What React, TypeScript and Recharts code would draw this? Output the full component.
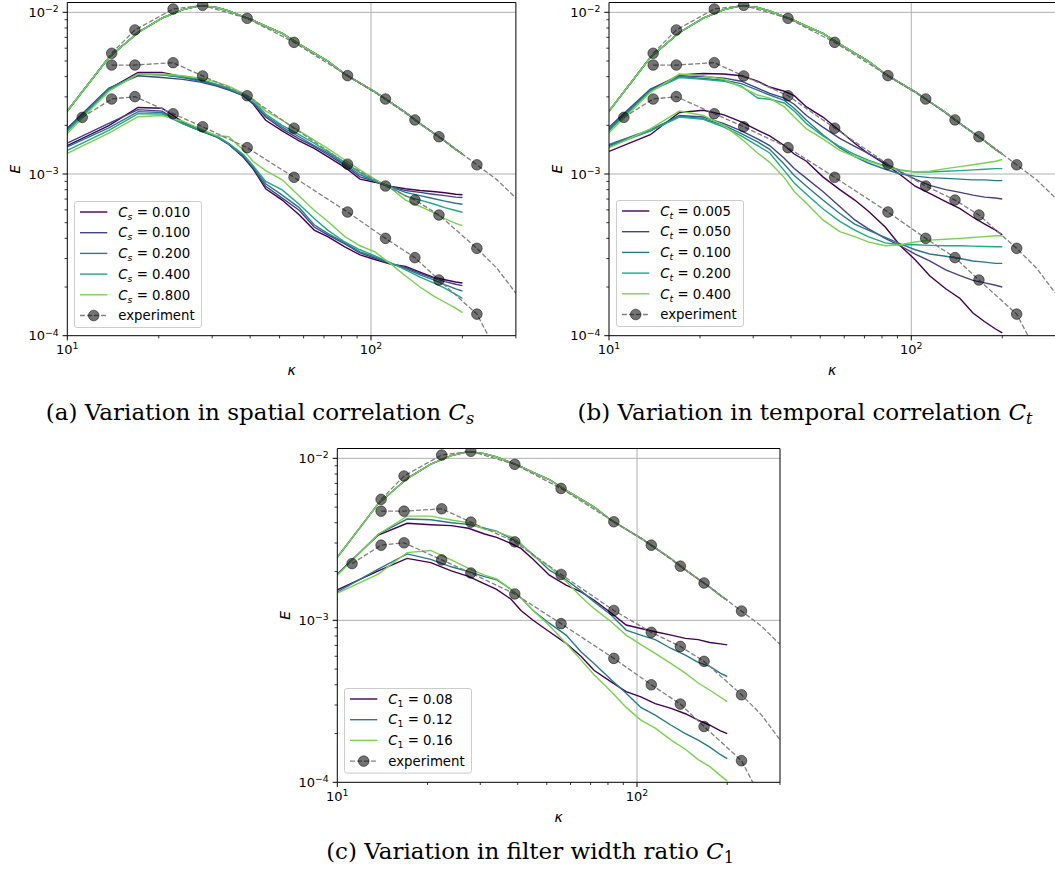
import React from "react";
import { ComposedChart, Line, XAxis, YAxis, ReferenceLine, Legend } from "recharts";

const SANS = "DejaVu Sans, sans-serif";
const SERIF = "DejaVu Serif, serif";

// wavenumbers at which the simulated spectra are read
const simK = [10, 13.7, 17.1, 20.5, 24, 27.4, 31, 34, 38, 41, 45, 51, 58, 65, 72, 82, 92, 103, 115, 130, 145, 160, 175, 190, 200];

// first time level: all runs coincide
const topE = [2.45e-3, 5.25e-3, 7.5e-3, 9.2e-3, 1.04e-2, 1.1e-2, 1.07e-2, 1.02e-2, 9.4e-3, 8.9e-3, 8.2e-3, 7.4e-3, 6.35e-3, 5.6e-3, 5.0e-3, 4.15e-3, 3.65e-3, 3.22e-3, 2.8e-3, 2.4e-3, 2.05e-3, 1.8e-3, 1.6e-3, 1.42e-3, 1.33e-3];

// (a) spatial correlation, second and third time level
const aMid010 = [1.9e-3, 3.35e-3, 4.25e-3, 4.25e-3, 4.0e-3, 3.8e-3, 3.55e-3, 3.35e-3, 3.05e-3, 2.7e-3, 2.15e-3, 1.85e-3, 1.6e-3, 1.44e-3, 1.28e-3, 1.1e-3, 9.3e-4, 8.9e-4, 8.4e-4, 8.1e-4, 7.9e-4, 7.8e-4, 7.65e-4, 7.5e-4, 7.45e-4];
const aMid100 = [1.92e-3, 3.4e-3, 4.05e-3, 3.95e-3, 3.85e-3, 3.7e-3, 3.5e-3, 3.3e-3, 3.05e-3, 2.75e-3, 2.25e-3, 1.9e-3, 1.65e-3, 1.48e-3, 1.32e-3, 1.13e-3, 9.6e-4, 9.0e-4, 8.4e-4, 7.9e-4, 7.7e-4, 7.5e-4, 7.35e-4, 7.2e-4, 7.15e-4];
const aMid200 = [1.88e-3, 3.35e-3, 4.15e-3, 4.1e-3, 3.95e-3, 3.75e-3, 3.55e-3, 3.35e-3, 3.05e-3, 2.75e-3, 2.3e-3, 1.95e-3, 1.7e-3, 1.5e-3, 1.35e-3, 1.15e-3, 9.9e-4, 9.0e-4, 8.4e-4, 7.7e-4, 7.35e-4, 7.05e-4, 6.8e-4, 6.6e-4, 6.5e-4];
const aMid400 = [1.84e-3, 3.3e-3, 4.15e-3, 4.1e-3, 4.0e-3, 3.85e-3, 3.6e-3, 3.4e-3, 3.1e-3, 2.85e-3, 2.35e-3, 2.0e-3, 1.75e-3, 1.55e-3, 1.38e-3, 1.18e-3, 1.02e-3, 9.1e-4, 8.4e-4, 7.3e-4, 6.9e-4, 6.55e-4, 6.2e-4, 5.95e-4, 5.8e-4];
const aMid800 = [1.78e-3, 3.25e-3, 4.15e-3, 4.15e-3, 4.05e-3, 3.92e-3, 3.7e-3, 3.5e-3, 3.15e-3, 2.9e-3, 2.45e-3, 2.15e-3, 1.85e-3, 1.62e-3, 1.44e-3, 1.22e-3, 1.06e-3, 9.3e-4, 8.3e-4, 6.9e-4, 6.3e-4, 5.8e-4, 5.3e-4, 4.95e-4, 4.8e-4];
const aBot010 = [1.5e-3, 1.99e-3, 2.58e-3, 2.55e-3, 2.1e-3, 1.88e-3, 1.7e-3, 1.53e-3, 1.27e-3, 1.07e-3, 8.1e-4, 6.9e-4, 5.6e-4, 4.5e-4, 4.1e-4, 3.54e-4, 3.16e-4, 2.96e-4, 2.78e-4, 2.68e-4, 2.47e-4, 2.3e-4, 2.22e-4, 2.15e-4, 2.12e-4];
const aBot100 = [1.55e-3, 2.06e-3, 2.5e-3, 2.45e-3, 2.05e-3, 1.85e-3, 1.7e-3, 1.53e-3, 1.28e-3, 1.08e-3, 8.4e-4, 7.1e-4, 5.97e-4, 4.7e-4, 4.2e-4, 3.7e-4, 3.25e-4, 3.02e-4, 2.8e-4, 2.64e-4, 2.43e-4, 2.28e-4, 2.16e-4, 2.08e-4, 2.04e-4];
const aBot200 = [1.47e-3, 1.93e-3, 2.43e-3, 2.4e-3, 2.05e-3, 1.85e-3, 1.7e-3, 1.53e-3, 1.3e-3, 1.1e-3, 8.7e-4, 7.4e-4, 6.2e-4, 4.85e-4, 4.3e-4, 3.75e-4, 3.3e-4, 3.07e-4, 2.83e-4, 2.6e-4, 2.38e-4, 2.22e-4, 2.07e-4, 1.95e-4, 1.89e-4];
const aBot400 = [1.4e-3, 1.86e-3, 2.36e-3, 2.35e-3, 2.05e-3, 1.87e-3, 1.72e-3, 1.55e-3, 1.32e-3, 1.12e-3, 9.0e-4, 7.98e-4, 6.5e-4, 5.3e-4, 4.5e-4, 3.8e-4, 3.4e-4, 3.12e-4, 2.85e-4, 2.55e-4, 2.3e-4, 2.13e-4, 1.97e-4, 1.8e-4, 1.7e-4];
const aBot800 = [1.34e-3, 1.79e-3, 2.26e-3, 2.3e-3, 2.12e-3, 1.9e-3, 1.73e-3, 1.7e-3, 1.41e-3, 1.19e-3, 1.05e-3, 9.2e-4, 7.3e-4, 5.97e-4, 5.1e-4, 4.1e-4, 3.6e-4, 3.3e-4, 2.82e-4, 2.34e-4, 2.0e-4, 1.77e-4, 1.61e-4, 1.48e-4, 1.39e-4];

// (b) temporal correlation
const bMid005 = [1.88e-3, 3.3e-3, 4.1e-3, 4.18e-3, 4.15e-3, 4.05e-3, 3.75e-3, 3.45e-3, 3.25e-3, 3.05e-3, 2.6e-3, 2.25e-3, 1.85e-3, 1.55e-3, 1.34e-3, 1.15e-3, 9.9e-4, 8.4e-4, 7.6e-4, 6.75e-4, 6.1e-4, 5.4e-4, 4.9e-4, 4.5e-4, 4.2e-4];
const bMid050 = [1.95e-3, 3.35e-3, 4.05e-3, 4.0e-3, 3.92e-3, 3.75e-3, 3.4e-3, 3.15e-3, 2.95e-3, 2.7e-3, 2.3e-3, 1.95e-3, 1.66e-3, 1.48e-3, 1.34e-3, 1.17e-3, 1.03e-3, 9.3e-4, 8.5e-4, 8.0e-4, 7.7e-4, 7.4e-4, 7.2e-4, 7.1e-4, 7.0e-4];
const bMid100 = [1.9e-3, 3.3e-3, 4.0e-3, 3.9e-3, 3.8e-3, 3.62e-3, 3.3e-3, 3.08e-3, 2.85e-3, 2.55e-3, 2.15e-3, 1.75e-3, 1.45e-3, 1.28e-3, 1.17e-3, 1.07e-3, 1.0e-3, 9.7e-4, 9.5e-4, 9.4e-4, 9.3e-4, 9.2e-4, 9.2e-4, 9.1e-4, 9.1e-4];
const bMid200 = [1.85e-3, 3.25e-3, 3.95e-3, 3.85e-3, 3.75e-3, 3.5e-3, 2.95e-3, 2.9e-3, 2.75e-3, 2.45e-3, 2.05e-3, 1.72e-3, 1.48e-3, 1.32e-3, 1.22e-3, 1.12e-3, 1.06e-3, 1.03e-3, 1.03e-3, 1.04e-3, 1.05e-3, 1.06e-3, 1.07e-3, 1.08e-3, 1.08e-3];
const bMid400 = [1.8e-3, 3.2e-3, 4.15e-3, 4.05e-3, 3.85e-3, 3.45e-3, 3.08e-3, 2.95e-3, 2.6e-3, 2.25e-3, 1.9e-3, 1.65e-3, 1.4e-3, 1.28e-3, 1.2e-3, 1.11e-3, 1.05e-3, 1.03e-3, 1.04e-3, 1.08e-3, 1.11e-3, 1.14e-3, 1.17e-3, 1.2e-3, 1.23e-3];
const bBot005 = [1.38e-3, 1.75e-3, 2.4e-3, 2.48e-3, 2.32e-3, 2.1e-3, 1.87e-3, 1.72e-3, 1.5e-3, 1.33e-3, 1.2e-3, 9.6e-4, 8.0e-4, 6.9e-4, 5.9e-4, 4.7e-4, 3.6e-4, 2.95e-4, 2.35e-4, 1.95e-4, 1.7e-4, 1.38e-4, 1.22e-4, 1.1e-4, 1.04e-4];
const bBot050 = [1.5e-3, 1.85e-3, 2.3e-3, 2.25e-3, 2.05e-3, 1.85e-3, 1.65e-3, 1.5e-3, 1.25e-3, 1.08e-3, 9.4e-4, 7.8e-4, 6.3e-4, 5.2e-4, 4.6e-4, 4.0e-4, 3.6e-4, 3.2e-4, 2.9e-4, 2.55e-4, 2.35e-4, 2.2e-4, 2.12e-4, 2.05e-4, 2.0e-4];
const bBot100 = [1.52e-3, 1.88e-3, 2.28e-3, 2.2e-3, 2.0e-3, 1.78e-3, 1.58e-3, 1.42e-3, 1.15e-3, 9.8e-4, 8.4e-4, 6.9e-4, 5.7e-4, 4.9e-4, 4.5e-4, 4.05e-4, 3.7e-4, 3.4e-4, 3.2e-4, 3.1e-4, 3.0e-4, 2.9e-4, 2.85e-4, 2.8e-4, 2.8e-4];
const bBot200 = [1.48e-3, 1.85e-3, 2.25e-3, 2.18e-3, 1.95e-3, 1.72e-3, 1.5e-3, 1.35e-3, 1.05e-3, 8.8e-4, 7.5e-4, 6.1e-4, 5.1e-4, 4.5e-4, 4.1e-4, 3.75e-4, 3.65e-4, 3.65e-4, 3.62e-4, 3.6e-4, 3.6e-4, 3.58e-4, 3.56e-4, 3.55e-4, 3.55e-4];
const bBot400 = [1.45e-3, 1.9e-3, 2.45e-3, 2.3e-3, 2.0e-3, 1.65e-3, 1.35e-3, 1.18e-3, 9.5e-4, 7.8e-4, 6.6e-4, 5.2e-4, 4.4e-4, 4.1e-4, 3.8e-4, 3.6e-4, 3.65e-4, 3.8e-4, 3.9e-4, 3.95e-4, 4.0e-4, 4.05e-4, 4.1e-4, 4.15e-4, 4.15e-4];

// (c) filter width ratio
const cMid08 = [1.93e-3, 3.36e-3, 3.97e-3, 3.89e-3, 3.84e-3, 3.7e-3, 3.41e-3, 3.25e-3, 2.98e-3, 2.78e-3, 2.38e-3, 1.9e-3, 1.65e-3, 1.5e-3, 1.33e-3, 1.11e-3, 9.35e-4, 8.9e-4, 8.5e-4, 8.1e-4, 7.74e-4, 7.6e-4, 7.3e-4, 7.15e-4, 7.05e-4];
const cMid12 = [1.93e-3, 3.4e-3, 4.22e-3, 4.18e-3, 4.0e-3, 3.91e-3, 3.7e-3, 3.55e-3, 3.2e-3, 2.95e-3, 2.55e-3, 2.04e-3, 1.78e-3, 1.52e-3, 1.3e-3, 1.08e-3, 8.7e-4, 8.1e-4, 7.6e-4, 6.7e-4, 6.1e-4, 5.5e-4, 5.2e-4, 4.7e-4, 4.5e-4];
const cMid16 = [1.9e-3, 3.4e-3, 4.4e-3, 4.4e-3, 4.16e-3, 4.0e-3, 3.65e-3, 3.53e-3, 3.28e-3, 2.98e-3, 2.5e-3, 2.14e-3, 1.74e-3, 1.4e-3, 1.18e-3, 9.8e-4, 8.1e-4, 7.07e-4, 6.25e-4, 5.4e-4, 4.72e-4, 4.1e-4, 3.7e-4, 3.35e-4, 3.15e-4];
const cBot08 = [1.54e-3, 2.02e-3, 2.41e-3, 2.27e-3, 2.02e-3, 1.87e-3, 1.68e-3, 1.55e-3, 1.35e-3, 1.15e-3, 1.0e-3, 8.5e-4, 7.2e-4, 6.0e-4, 4.9e-4, 4.17e-4, 3.63e-4, 3.37e-4, 3.06e-4, 2.86e-4, 2.65e-4, 2.42e-4, 2.25e-4, 2.08e-4, 2.0e-4];
const cBot12 = [1.5e-3, 2.07e-3, 2.57e-3, 2.38e-3, 2.14e-3, 2.0e-3, 1.86e-3, 1.78e-3, 1.55e-3, 1.38e-3, 1.15e-3, 9.6e-4, 8.1e-4, 6.4e-4, 5.4e-4, 4.3e-4, 3.55e-4, 2.9e-4, 2.6e-4, 2.25e-4, 2.0e-4, 1.82e-4, 1.65e-4, 1.48e-4, 1.4e-4];
const cBot16 = [1.47e-3, 1.93e-3, 2.62e-3, 2.7e-3, 2.36e-3, 2.09e-3, 1.9e-3, 1.8e-3, 1.55e-3, 1.38e-3, 1.15e-3, 9.3e-4, 7.2e-4, 5.7e-4, 4.6e-4, 3.63e-4, 2.9e-4, 2.42e-4, 2.16e-4, 1.82e-4, 1.6e-4, 1.38e-4, 1.25e-4, 1.1e-4, 1.02e-4];

// experiment (markers), three time levels
const expK = [11.2, 14.0, 16.7, 22.3, 27.9, 39.1, 55.8, 83.7, 111.6, 139.5, 167.4, 223.2];
const expTop = [null, 5.58e-3, 7.78e-3, 1.048e-2, 1.105e-2, 9.18e-3, 6.52e-3, 4.06e-3, 2.91e-3, 2.16e-3, 1.7e-3, 1.14e-3];
const expMid = [null, 4.72e-3, 4.72e-3, 4.88e-3, 4.04e-3, 3.05e-3, 1.92e-3, 1.15e-3, 8.43e-4, 6.9e-4, 5.58e-4, 3.47e-4];
const expBot = [2.24e-3, 2.91e-3, 3.01e-3, 2.36e-3, 1.96e-3, 1.455e-3, 9.54e-4, 5.82e-4, 4.0e-4, 3.04e-4, 2.21e-4, 1.36e-4];
// dashed continuation past the last marker
const tailK = [260, 300];
const topTail = [9.2e-4, 7.1e-4];
const midTail = [2.61e-4, 1.83e-4];
const botTail = [7.9e-5, 5.5e-5];

const csLabels = ["0.010", "0.100", "0.200", "0.400", "0.800"];
const ctLabels = ["0.005", "0.050", "0.100", "0.200", "0.400"];
const c1Labels = ["0.08", "0.12", "0.16"];

const viridis5 = ["#440154", "#414487", "#2a788e", "#22a884", "#7ad151"];
const viridis3 = ["#440154", "#2a788e", "#7ad151"];

const xTicks = [10, 20, 30, 40, 50, 60, 70, 80, 90, 100, 200, 300];
const yTicks = [1e-4, 2e-4, 3e-4, 4e-4, 5e-4, 6e-4, 7e-4, 8e-4, 9e-4, 1e-3, 2e-3, 3e-3, 4e-3, 5e-3, 6e-3, 7e-3, 8e-3, 9e-3, 1e-2];

const X_DOMAIN = [10, 300];
const Y_DOMAIN = [1e-4, 0.0115];

const toPts = (ks: number[], es: (number | null)[]) =>
  ks.map((k, i) => ({ k, E: es[i] })).filter((p) => p.E != null);

const isMajor = (v: number) => Math.abs(Math.log10(v) - Math.round(Math.log10(v))) < 1e-9;

const XTick = (props: any) => {
  const { x, y, payload } = props;
  const v = payload.value;
  const major = isMajor(v);
  return (
    <g>
      <line x1={x} x2={x} y1={y} y2={y + (major ? 4.7 : 2.7)} stroke="#000" strokeWidth={major ? 1 : 0.8} />
      {major && (
        <text x={x} y={y + 18.3} textAnchor="middle" fontFamily={SANS} fontSize={13} fill="#000">
          10<tspan dy={-5} fontSize={9.3}>{Math.round(Math.log10(v))}</tspan>
        </text>
      )}
    </g>
  );
};

const YTick = (props: any) => {
  const { x, y, payload } = props;
  const v = payload.value;
  const major = isMajor(v);
  return (
    <g>
      <line x1={x} x2={x - (major ? 4.7 : 2.7)} y1={y} y2={y} stroke="#000" strokeWidth={major ? 1 : 0.8} />
      {major && (
        <text x={x - 8.6} y={y + 4.5} textAnchor="end" fontFamily={SANS} fontSize={13} fill="#000">
          10<tspan dy={-4.5} fontSize={9.3}>{"\u2212" + -Math.round(Math.log10(v))}</tspan>
        </text>
      )}
    </g>
  );
};

const yTitle = (p: any) => {
  const vb = p.viewBox;
  if (!vb) return null;
  const cx = vb.x + vb.width - 52;
  const cy = vb.y + vb.height / 2;
  return (
    <text x={cx} y={cy} transform={`rotate(-90 ${cx} ${cy})`} textAnchor="middle" dominantBaseline="central" fontFamily={SANS} fontSize={14} fontStyle="italic" fill="#000">
      E
    </text>
  );
};

const xTitle = (p: any) => {
  const vb = p.viewBox;
  if (!vb) return null;
  return (
    <text x={vb.x + vb.width / 2} y={vb.y + 39.3} textAnchor="middle" fontFamily={SANS} fontSize={14} fontStyle="italic" fill="#000">
      κ
    </text>
  );
};

function LegendBox({ labels, colors, sub, width }: { labels: string[]; colors: string[]; sub: string; width: number }) {
  const rows = labels.length + 1;
  const h = 11 + (rows - 1) * 20.7 + 12.5;
  return (
    <svg width={width} height={h} style={{ display: "block" }}>
      <rect x={0.5} y={0.5} width={width - 1} height={h - 1} rx={2.5} fill="#fff" fillOpacity={0.8} stroke="#cccccc" strokeWidth={1} />
      {labels.map((lab, i) => {
        const cy = 11 + i * 20.7;
        return (
          <g key={lab}>
            <line x1={6} x2={33.3} y1={cy} y2={cy} stroke={colors[i]} strokeWidth={1.4} />
            <text x={44.3} y={cy + 4.7} fontFamily={SANS} fontSize={13.3} fill="#000" style={{ whiteSpace: "pre" }}>
              <tspan fontStyle="italic">C</tspan>
              <tspan fontSize={9.3} dy={3} fontStyle={sub === "1" ? "normal" : "italic"}>{sub}</tspan>
              <tspan dy={-3}>{" = " + lab}</tspan>
            </text>
          </g>
        );
      })}
      {(() => {
        const cy = 11 + labels.length * 20.7;
        return (
          <g>
            <line x1={6} x2={33.3} y1={cy} y2={cy} stroke="#808080" strokeWidth={1.3} strokeDasharray="4.9 2.1" />
            <circle cx={19.7} cy={cy} r={5.3} fill="#000" fillOpacity={0.55} stroke="#000" strokeOpacity={0.5} />
            <text x={44.3} y={cy + 4.7} fontFamily={SANS} fontSize={13.3} fill="#000">
              experiment
            </text>
          </g>
        );
      })()}
    </svg>
  );
}

type PanelProps = {
  left: number;
  top: number;
  margin: { top: number; right: number; bottom: number; left: number };
  mids: number[][];
  bots: number[][];
  colors: string[];
  labels: string[];
  sub: string;
  legendPos: { left: number; top: number };
};

const W = 530;
const H = 395;

function Panel({ left, top, margin, mids, bots, colors, labels, sub, legendPos }: PanelProps) {
  const rows = simK.map((k, i) => {
    const r: any = { k, top: topE[i] };
    mids.forEach((arr, j) => (r["m" + j] = arr[i]));
    bots.forEach((arr, j) => (r["b" + j] = arr[i]));
    return r;
  });
  const topPts = toPts(expK, expTop);
  const midPts = toPts(expK, expMid);
  const botPts = toPts(expK, expBot);
  const topDash = [...topPts, ...toPts(tailK, topTail)];
  const midDash = [...midPts, ...toPts(tailK, midTail)];
  const botDash = [...botPts, ...toPts(tailK, botTail)];
  const dashStyle = { stroke: "#808080", strokeWidth: 1.3, strokeDasharray: "4.9 2.1" };
  const markerDot = { r: 5.3, fill: "#000", fillOpacity: 0.55, stroke: "#000", strokeOpacity: 0.5, strokeWidth: 1 };

  // axes need a non-zero size to be drawn; take that pixel out of the margin
  const m = { ...margin, left: margin.left - 1, bottom: margin.bottom - 1 };

  return (
    <div style={{ position: "absolute", left, top, width: W, height: H }}>
      <ComposedChart width={W} height={H} data={rows} margin={m}>
        <ReferenceLine y={1e-3} stroke="#b0b0b0" strokeWidth={1} />
        <ReferenceLine y={1e-2} stroke="#b0b0b0" strokeWidth={1} />
        <ReferenceLine x={100} stroke="#b0b0b0" strokeWidth={1} />
        <XAxis
          dataKey="k"
          type="number"
          scale="log"
          domain={X_DOMAIN}
          allowDataOverflow
          ticks={xTicks}
          interval={0}
          height={1}
          tickLine={false}
          tickSize={0}
          tickMargin={0}
          tick={(p: any) => <XTick {...p} />}
          axisLine={{ stroke: "#000", strokeWidth: 1 }}
          label={{ content: xTitle }}
        />
        <YAxis
          type="number"
          scale="log"
          domain={Y_DOMAIN}
          allowDataOverflow
          ticks={yTicks}
          interval={0}
          width={1}
          tickLine={false}
          tickSize={0}
          tickMargin={0}
          tick={(p: any) => <YTick {...p} />}
          axisLine={{ stroke: "#000", strokeWidth: 1 }}
          label={{ content: yTitle }}
        />
        {colors.map((c, j) => [
          <Line key={"t" + j} dataKey="top" stroke={c} strokeWidth={1.4} dot={false} activeDot={false} isAnimationActive={false} />,
          <Line key={"m" + j} dataKey={"m" + j} stroke={c} strokeWidth={1.4} dot={false} activeDot={false} isAnimationActive={false} />,
          <Line key={"b" + j} dataKey={"b" + j} stroke={c} strokeWidth={1.4} dot={false} activeDot={false} isAnimationActive={false} />,
        ])}
        <Line data={topDash} dataKey="E" {...dashStyle} dot={false} activeDot={false} isAnimationActive={false} />
        <Line data={midDash} dataKey="E" {...dashStyle} dot={false} activeDot={false} isAnimationActive={false} />
        <Line data={botDash} dataKey="E" {...dashStyle} dot={false} activeDot={false} isAnimationActive={false} />
        <Line data={topPts} dataKey="E" stroke="none" dot={markerDot} activeDot={false} isAnimationActive={false} />
        <Line data={midPts} dataKey="E" stroke="none" dot={markerDot} activeDot={false} isAnimationActive={false} />
        <Line data={botPts} dataKey="E" stroke="none" dot={markerDot} activeDot={false} isAnimationActive={false} />
        <ReferenceLine y={Y_DOMAIN[1]} stroke="#000" strokeWidth={1} />
        <ReferenceLine x={X_DOMAIN[1]} stroke="#000" strokeWidth={1} />
        <Legend
          layout="horizontal"
          verticalAlign="middle"
          align="center"
          wrapperStyle={{ left: legendPos.left, top: legendPos.top, width: 128, height: "auto" }}
          content={() => <LegendBox labels={labels} colors={colors} sub={sub} width={128} />}
        />
      </ComposedChart>
    </div>
  );
}

export default function App() {
  return (
    <div style={{ position: "absolute", left: 0, top: 0, width: 1055, height: 884, overflow: "hidden", background: "#fff" }}>
      <Panel
        left={0}
        top={0}
        margin={{ top: 2.5, right: 14.1, bottom: 59.3, left: 67.3 }}
        mids={[aMid010, aMid100, aMid200, aMid400, aMid800]}
        bots={[aBot010, aBot100, aBot200, aBot400, aBot800]}
        colors={viridis5}
        labels={csLabels}
        sub="s"
        legendPos={{ left: 74, top: 201 }}
      />
      <Panel
        left={530}
        top={0}
        margin={{ top: 2.5, right: 4.5, bottom: 59.3, left: 79 }}
        mids={[bMid005, bMid050, bMid100, bMid200, bMid400]}
        bots={[bBot005, bBot050, bBot100, bBot200, bBot400]}
        colors={viridis5}
        labels={ctLabels}
        sub="t"
        legendPos={{ left: 86, top: 200 }}
      />
      <Panel
        left={270}
        top={440}
        margin={{ top: 8.5, right: 20, bottom: 52.7, left: 67.3 }}
        mids={[cMid08, cMid12, cMid16]}
        bots={[cBot08, cBot12, cBot16]}
        colors={viridis3}
        labels={c1Labels}
        sub="1"
        legendPos={{ left: 74, top: 248.3 }}
      />
      <svg width={1055} height={884} style={{ position: "absolute", left: 0, top: 0, pointerEvents: "none" }}>
        <text x={260} y={420} textAnchor="middle" fontFamily={SERIF} fontSize={23} fill="#000" style={{ whiteSpace: "pre" }}>
          (a) Variation in spatial correlation <tspan fontStyle="italic">C</tspan>
          <tspan fontStyle="italic" fontSize={16} dy={4}>s</tspan>
        </text>
        <text x={805} y={420} textAnchor="middle" fontFamily={SERIF} fontSize={23} fill="#000" style={{ whiteSpace: "pre" }}>
          (b) Variation in temporal correlation <tspan fontStyle="italic">C</tspan>
          <tspan fontStyle="italic" fontSize={16} dy={4}>t</tspan>
        </text>
        <text x={530} y={859} textAnchor="middle" fontFamily={SERIF} fontSize={23} fill="#000" style={{ whiteSpace: "pre" }}>
          (c) Variation in filter width ratio <tspan fontStyle="italic">C</tspan>
          <tspan fontSize={16} dy={4}>1</tspan>
        </text>
      </svg>
    </div>
  );
}
